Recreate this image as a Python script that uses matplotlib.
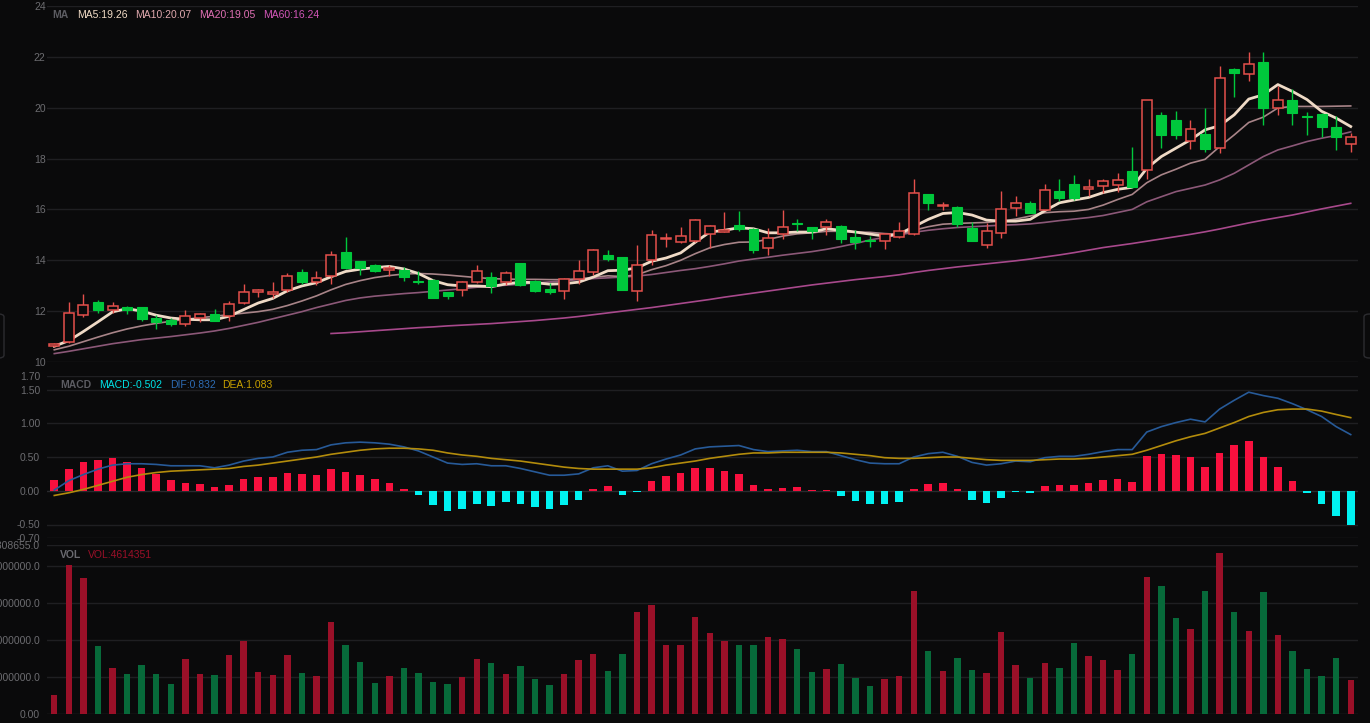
import numpy as np
import matplotlib.pyplot as plt
from matplotlib.patches import FancyBboxPatch

# ---- data (90 trading days) ----
opens = [10.62, 10.78, 11.86, 12.37, 12.03, 12.18, 12.16, 11.72, 11.66, 11.48,
         11.74, 11.87, 11.80, 12.31, 12.75, 12.68, 12.82, 13.52, 13.14, 13.38,
         14.33, 13.97, 13.82, 13.60, 13.62, 13.20, 13.22, 12.76, 12.84, 13.16,
         13.35, 13.15, 13.90, 13.19, 12.89, 12.78, 13.25, 13.53, 14.22, 14.12,
         12.78, 14.03, 14.83, 14.71, 14.75, 15.04, 15.13, 15.37, 15.25, 14.49,
         15.04, 15.45, 15.30, 15.30, 15.34, 14.91, 14.79, 14.76, 14.92, 15.03,
         16.61, 16.13, 16.09, 15.28, 14.59, 15.08, 16.04, 16.24, 15.97, 16.74,
         16.99, 16.80, 16.92, 16.97, 17.51, 17.55, 19.71, 19.50, 18.71, 18.97,
         18.41, 21.53, 21.32, 21.79, 19.97, 20.29, 19.68, 19.75, 19.26, 18.59]
highs = [10.75, 12.34, 12.66, 12.42, 12.35, 12.22, 12.17, 11.86, 11.74, 12.03,
         11.93, 12.08, 12.38, 13.07, 12.88, 13.14, 13.49, 13.64, 13.58, 14.37,
         14.92, 13.99, 13.85, 13.80, 13.74, 13.58, 13.25, 12.77, 13.19, 13.82,
         13.54, 13.58, 13.91, 13.21, 13.12, 13.30, 14.00, 14.45, 14.42, 14.13,
         14.62, 15.18, 15.08, 15.32, 15.61, 15.37, 15.91, 15.93, 15.28, 15.28,
         15.97, 15.63, 15.31, 15.63, 15.37, 15.18, 14.95, 15.06, 15.49, 17.18,
         16.62, 16.30, 16.14, 15.50, 15.45, 16.74, 16.54, 16.34, 17.00, 17.20,
         17.37, 17.18, 17.18, 17.42, 18.45, 20.32, 19.82, 19.88, 19.50, 19.97,
         21.63, 21.55, 22.20, 22.20, 20.84, 20.74, 19.82, 19.79, 19.68, 19.00]
lows = [10.58, 10.74, 11.78, 11.92, 11.92, 11.88, 11.60, 11.28, 11.42, 11.40,
        11.56, 11.60, 11.63, 12.30, 12.55, 12.51, 12.76, 13.05, 13.02, 13.06,
        13.64, 13.41, 13.52, 13.39, 13.20, 13.06, 12.50, 12.47, 12.60, 13.12,
        12.70, 13.02, 12.97, 12.77, 12.66, 12.47, 13.06, 13.43, 13.96, 12.82,
        12.38, 13.83, 14.53, 14.68, 14.71, 14.49, 15.10, 15.14, 14.29, 14.22,
        14.82, 15.14, 14.82, 15.01, 14.68, 14.45, 14.53, 14.46, 14.89, 15.00,
        15.97, 15.97, 15.32, 14.74, 14.50, 14.86, 15.74, 15.84, 15.96, 16.34,
        16.39, 16.53, 16.63, 16.70, 16.83, 17.18, 18.41, 18.78, 18.39, 18.24,
        18.21, 20.41, 21.04, 19.33, 19.72, 19.33, 18.93, 18.84, 18.32, 18.24]
closes = [10.72, 11.92, 12.24, 12.03, 12.22, 12.03, 11.70, 11.59, 11.48, 11.79,
          11.87, 11.61, 12.30, 12.77, 12.82, 12.76, 13.40, 13.14, 13.29, 14.20,
          13.71, 13.71, 13.58, 13.68, 13.36, 13.16, 12.52, 12.59, 13.15, 13.59,
          12.99, 13.49, 13.02, 12.80, 12.76, 13.25, 13.57, 14.42, 14.07, 12.84,
          13.82, 15.01, 14.88, 14.97, 15.58, 15.34, 15.20, 15.24, 14.42, 14.87,
          15.29, 15.42, 15.14, 15.50, 14.82, 14.71, 14.74, 15.05, 15.16, 16.63,
          16.24, 16.18, 15.42, 14.75, 15.16, 16.03, 16.26, 15.87, 16.78, 16.45,
          16.46, 16.88, 17.12, 17.16, 16.89, 20.30, 18.93, 18.93, 19.17, 18.38,
          21.16, 21.36, 21.70, 19.97, 20.32, 19.78, 19.62, 19.25, 18.83, 18.83]

ma5 = [10.62, 10.84, 11.20, 11.58, 11.97, 12.10, 12.00, 11.84, 11.73, 11.68,
       11.66, 11.66, 11.80, 12.06, 12.32, 12.50, 12.80, 12.99, 13.12, 13.35,
       13.56, 13.65, 13.71, 13.76, 13.66, 13.48, 13.20, 13.04, 12.99, 12.99,
       12.96, 13.07, 13.14, 13.12, 13.06, 13.08, 13.14, 13.34, 13.59, 13.61,
       13.70, 13.96, 14.09, 14.29, 14.71, 15.11, 15.18, 15.28, 15.24, 15.08,
       15.08, 15.11, 15.11, 15.24, 15.18, 15.11, 15.03, 14.95, 15.03, 15.32,
       15.61, 15.84, 15.88, 15.78, 15.58, 15.54, 15.54, 15.61, 15.95, 16.26,
       16.37, 16.47, 16.66, 16.79, 16.87, 17.62, 18.08, 18.41, 18.74, 19.13,
       19.29, 19.72, 20.34, 20.51, 20.91, 20.64, 20.32, 19.86, 19.59, 19.26]
ma10 = [10.48, 10.62, 10.80, 10.98, 11.15, 11.30, 11.42, 11.52, 11.60, 11.68,
        11.74, 11.80, 11.86, 11.92, 11.98, 12.07, 12.22, 12.40, 12.60, 12.84,
        13.05, 13.20, 13.32, 13.40, 13.46, 13.48, 13.46, 13.42, 13.37, 13.32,
        13.28, 13.26, 13.25, 13.25, 13.24, 13.24, 13.27, 13.33, 13.39, 13.36,
        13.43, 13.63, 13.79, 14.00, 14.26, 14.49, 14.62, 14.71, 14.72, 14.82,
        14.95, 15.04, 15.08, 15.14, 15.14, 15.11, 15.10, 15.05, 15.02, 15.18,
        15.32, 15.42, 15.45, 15.47, 15.49, 15.54, 15.62, 15.74, 15.87, 15.91,
        15.93, 16.00, 16.17, 16.39, 16.59, 17.05, 17.36, 17.58, 17.82, 17.97,
        18.47, 18.93, 19.42, 19.63, 19.99, 20.05, 20.05, 20.05, 20.06, 20.07]
ma20 = [10.33, 10.42, 10.52, 10.62, 10.72, 10.80, 10.88, 10.94, 11.00, 11.07,
        11.14, 11.22, 11.32, 11.44, 11.56, 11.70, 11.84, 11.98, 12.14, 12.28,
        12.42, 12.52, 12.59, 12.64, 12.69, 12.73, 12.78, 12.83, 12.88, 12.94,
        12.98, 13.02, 13.06, 13.11, 13.15, 13.19, 13.24, 13.28, 13.31, 13.34,
        13.38, 13.44, 13.52, 13.60, 13.67, 13.76, 13.86, 13.97, 14.05, 14.12,
        14.20, 14.27, 14.34, 14.43, 14.54, 14.66, 14.80, 14.90, 15.00, 15.10,
        15.18, 15.24, 15.29, 15.32, 15.35, 15.38, 15.40, 15.43, 15.49, 15.56,
        15.62, 15.68, 15.76, 15.88, 16.00, 16.30, 16.50, 16.70, 16.83, 16.96,
        17.16, 17.42, 17.75, 18.08, 18.34, 18.50, 18.67, 18.80, 18.91, 19.05]
# MA60 only starts at day 19
ma60 = [11.12, 11.15, 11.19, 11.23, 11.27, 11.31, 11.35, 11.38, 11.42, 11.45,
        11.48, 11.51, 11.55, 11.59, 11.63, 11.68, 11.73, 11.79, 11.86, 11.93,
        12.00, 12.07, 12.14, 12.22, 12.30, 12.38, 12.46, 12.55, 12.63, 12.71,
        12.79, 12.87, 12.95, 13.03, 13.10, 13.17, 13.24, 13.30, 13.36, 13.43,
        13.52, 13.60, 13.67, 13.74, 13.80, 13.86, 13.92, 13.98, 14.05, 14.13,
        14.21, 14.30, 14.40, 14.50, 14.58, 14.66, 14.75, 14.84, 14.93, 15.02,
        15.12, 15.23, 15.35, 15.47, 15.58, 15.68, 15.78, 15.90, 16.02, 16.13,
        16.24]

macd = [0.16, 0.32, 0.43, 0.46, 0.48, 0.43, 0.34, 0.25, 0.16, 0.12,
        0.10, 0.05, 0.09, 0.17, 0.20, 0.20, 0.27, 0.25, 0.24, 0.32,
        0.28, 0.24, 0.17, 0.11, 0.03, -0.07, -0.21, -0.30, -0.27, -0.20,
        -0.22, -0.17, -0.20, -0.24, -0.27, -0.21, -0.14, 0.03, 0.07, -0.06,
        -0.02, 0.15, 0.22, 0.26, 0.34, 0.34, 0.30, 0.25, 0.09, 0.03,
        0.04, 0.05, 0.005, 0.01, -0.08, -0.15, -0.20, -0.19, -0.16, 0.03,
        0.10, 0.12, 0.02, -0.13, -0.18, -0.10, -0.02, -0.03, 0.07, 0.08,
        0.08, 0.12, 0.16, 0.17, 0.13, 0.51, 0.54, 0.53, 0.50, 0.35,
        0.56, 0.68, 0.74, 0.50, 0.35, 0.15, -0.03, -0.20, -0.38, -0.502]
dif = [0.01, 0.15, 0.24, 0.32, 0.38, 0.40, 0.40, 0.39, 0.37, 0.37,
       0.37, 0.34, 0.38, 0.44, 0.48, 0.50, 0.57, 0.60, 0.61, 0.68,
       0.71, 0.72, 0.71, 0.69, 0.65, 0.59, 0.50, 0.41, 0.39, 0.40,
       0.37, 0.37, 0.33, 0.28, 0.23, 0.23, 0.25, 0.34, 0.37, 0.29,
       0.30, 0.40, 0.47, 0.53, 0.62, 0.65, 0.66, 0.67, 0.61, 0.58,
       0.59, 0.60, 0.58, 0.58, 0.52, 0.46, 0.41, 0.40, 0.40, 0.50,
       0.55, 0.57, 0.51, 0.42, 0.38, 0.40, 0.44, 0.43, 0.49, 0.51,
       0.51, 0.54, 0.58, 0.61, 0.61, 0.87, 0.95, 1.01, 1.06, 1.02,
       1.21, 1.34, 1.46, 1.41, 1.37, 1.29, 1.20, 1.10, 0.95, 0.832]
dea = [-0.07, -0.03, 0.02, 0.08, 0.14, 0.20, 0.24, 0.27, 0.29, 0.30,
       0.31, 0.32, 0.33, 0.36, 0.38, 0.41, 0.44, 0.47, 0.50, 0.54,
       0.57, 0.60, 0.62, 0.63, 0.63, 0.62, 0.60, 0.56, 0.53, 0.51,
       0.48, 0.46, 0.44, 0.41, 0.38, 0.35, 0.33, 0.32, 0.32, 0.32,
       0.32, 0.34, 0.38, 0.41, 0.44, 0.48, 0.51, 0.54, 0.56, 0.56,
       0.57, 0.57, 0.57, 0.57, 0.56, 0.54, 0.52, 0.49, 0.48, 0.48,
       0.49, 0.50, 0.50, 0.48, 0.46, 0.45, 0.45, 0.45, 0.46, 0.47,
       0.47, 0.48, 0.50, 0.52, 0.54, 0.60, 0.67, 0.74, 0.80, 0.85,
       0.93, 1.01, 1.10, 1.16, 1.20, 1.21, 1.21, 1.18, 1.13, 1.083]

volume = [2.60e6, 20.05e6, 18.3e6, 9.15e6, 6.2e6, 5.4e6, 6.65e6, 5.35e6, 4.05e6, 7.45e6,
          5.35e6, 5.2e6, 7.95e6, 9.8e6, 5.7e6, 5.25e6, 7.95e6, 5.55e6, 5.1e6, 12.35e6,
          9.3e6, 7.05e6, 4.15e6, 5.15e6, 6.15e6, 5.55e6, 4.3e6, 4.05e6, 4.95e6, 7.45e6,
          6.9e6, 5.4e6, 6.45e6, 4.75e6, 3.85e6, 5.4e6, 7.35e6, 8.1e6, 5.8e6, 8.1e6,
          13.8e6, 14.65e6, 9.25e6, 9.35e6, 13.05e6, 10.9e6, 9.9e6, 9.3e6, 9.3e6, 10.4e6,
          10.15e6, 8.8e6, 5.7e6, 6.1e6, 6.8e6, 4.85e6, 3.75e6, 4.7e6, 5.15e6, 16.6e6,
          8.45e6, 5.85e6, 7.5e6, 6.0e6, 5.55e6, 11.05e6, 6.55e6, 4.85e6, 6.85e6, 6.2e6,
          9.6e6, 7.85e6, 7.25e6, 5.9e6, 8.1e6, 18.5e6, 17.3e6, 12.95e6, 11.5e6, 16.6e6,
          21.75e6, 13.7e6, 11.2e6, 16.5e6, 10.65e6, 8.55e6, 6.1e6, 5.15e6, 7.5e6, 4614351]

vol_top = 22808655.0
price_ticks = [10, 12, 14, 16, 18, 20, 22, 24]
macd_ticks = [-0.70, -0.50, 0.00, 0.50, 1.00, 1.50, 1.70]
vol_ticks = [0, 5e6, 10e6, 15e6, 20e6, vol_top]

# ---- style ----
BG = '#0a0a0b'
GRID = '#1f1f22'
TICK = '#6c6c70'
UP = '#e5504c'
DOWN = '#00c83c'
plt.rcParams['font.family'] = ['Liberation Sans', 'DejaVu Sans']

W, H = 1370, 723
fig = plt.figure(figsize=(W / 100, H / 100), dpi=100, facecolor=BG)


def px_axes(x0, y0, x1, y1):
    return fig.add_axes([x0 / W, 1 - y1 / H, (x1 - x0) / W, (y1 - y0) / H])


ax_p = px_axes(47, 6, 1358, 362)
ax_m = px_axes(47, 376, 1358, 538)
ax_v = px_axes(47, 545, 1358, 714)

x = np.arange(len(closes))
up = np.array(closes) >= np.array(opens)

for ax in (ax_p, ax_m, ax_v):
    ax.set_facecolor(BG)
    ax.set_xlim(-0.5, len(closes) - 0.5)
    for s in ax.spines.values():
        s.set_visible(False)
    ax.set_xticks([])
    ax.tick_params(axis='y', length=0, colors=TICK, labelsize=7.5)

# price panel
ax_p.set_ylim(10, 24)
ax_p.set_yticks(price_ticks)
ax_p.set_yticklabels([str(t) for t in price_ticks])
ax_p.tick_params(axis='y', pad=1)
for t in price_ticks:
    ax_p.axhline(t, color=GRID, lw=1, zorder=0)

ax_p.plot(x[19:], ma60, color='#a8498c', lw=1.2, zorder=2)
ax_p.plot(x, ma20, color='#8c5878', lw=1.2, zorder=2)
ax_p.plot(x, ma10, color='#a88488', lw=1.2, zorder=2)
ax_p.plot(x, ma5, color='#efdac6', lw=2.0, zorder=2)

colors = np.where(up, UP, DOWN)
ax_p.vlines(x, lows, highs, colors=colors, lw=1, zorder=3)
body_lo = np.minimum(opens, closes)
body_h = np.abs(np.array(closes) - np.array(opens))
ax_p.bar(x[up], body_h[up], bottom=body_lo[up], width=0.68,
         facecolor=BG, edgecolor=UP, linewidth=1.1, zorder=4)
ax_p.bar(x[~up], body_h[~up], bottom=body_lo[~up], width=0.68,
         facecolor=DOWN, edgecolor=DOWN, linewidth=0.8, zorder=4)

# macd panel
ax_m.set_ylim(-0.70, 1.70)
ax_m.set_yticks(macd_ticks)
ax_m.set_yticklabels(['%.2f' % t for t in macd_ticks])
ax_m.tick_params(axis='y', pad=5)
for t in macd_ticks:
    ax_m.axhline(t, color='#2a2a2e' if t == 0 else GRID, lw=1, zorder=0)
macd_arr = np.array(macd)
ax_m.bar(x, macd_arr, width=0.52,
         color=np.where(macd_arr >= 0, '#f8103e', '#00f2f2'), zorder=2)
ax_m.plot(x, dif, color='#275a98', lw=1.2, zorder=3)
ax_m.plot(x, dea, color='#b38c0c', lw=1.2, zorder=3)

# volume panel
ax_v.set_ylim(0, vol_top)
ax_v.set_yticks(vol_ticks)
ax_v.set_yticklabels(['0.00'] + ['%.1f' % t for t in vol_ticks[1:]])
ax_v.tick_params(axis='y', pad=5)
for t in vol_ticks:
    ax_v.axhline(t, color='#2a2a2e' if t == 0 else GRID, lw=1, zorder=0)
ax_v.bar(x, volume, width=0.44, color=np.where(up, '#9a1028', '#076a3a'), zorder=2)


# legends
def label(px, py, s, c, bold=False):
    fig.text(px / W, 1 - py / H, s, color=c, fontsize=7.5, ha='left', va='center',
             fontweight='bold' if bold else 'normal')


label(52, 15, 'MA', '#5c5c62', bold=True)
label(77, 15, 'MA5:19.26', '#f2dcc6')
label(135, 15, 'MA10:20.07', '#e2aab0')
label(199, 15, 'MA20:19.05', '#e070b4')
label(263, 15, 'MA60:16.24', '#d256b8')

label(60, 385, 'MACD', '#5c5c62', bold=True)
label(99, 385, 'MACD:-0.502', '#00e2e6')
label(170, 385, 'DIF:0.832', '#2e6cb4')
label(222, 385, 'DEA:1.083', '#c8a000')

label(60, 555, 'VOL', '#6a6a70', bold=True)
label(88, 555, 'VOL:4614351', '#9a1028')

# little screen handles at the side edges
for hx in (-8, 1364):
    fig.patches.append(FancyBboxPatch((hx / W, 1 - 358 / H), 12 / W, 44 / H,
                                      boxstyle='round,pad=0,rounding_size=0.004',
                                      transform=fig.transFigure, facecolor=BG,
                                      edgecolor='#2c2c30', lw=1))

fig.savefig('out.png', dpi=100, facecolor=BG)
